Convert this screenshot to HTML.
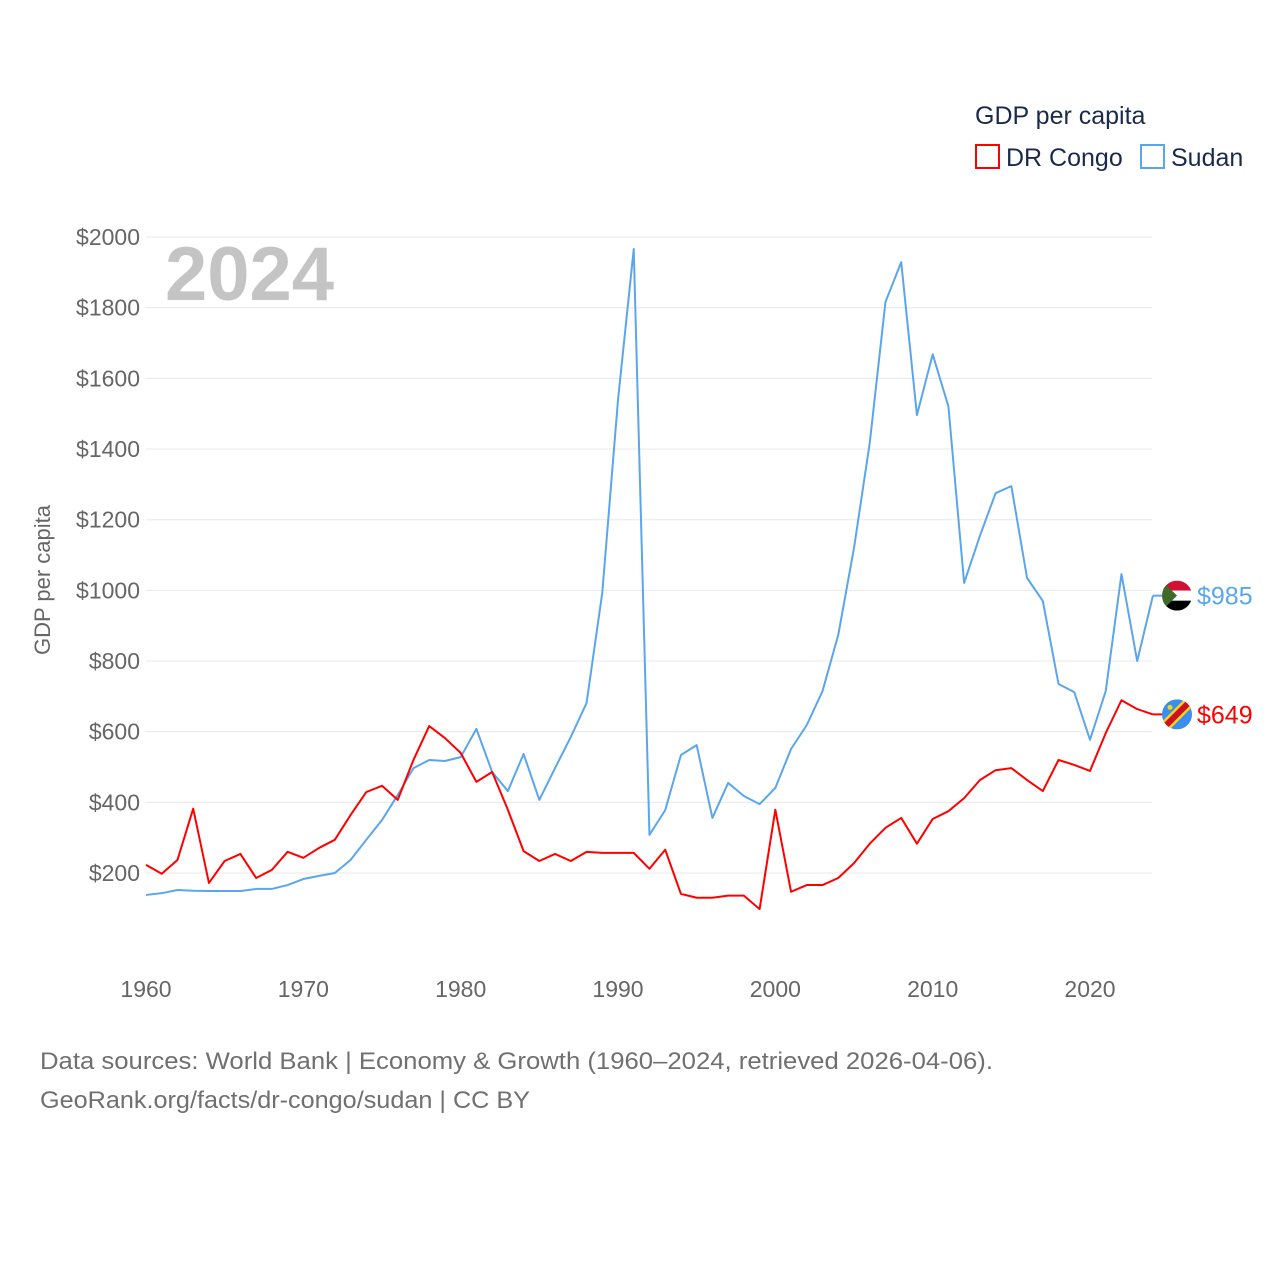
<!DOCTYPE html>
<html><head><meta charset="utf-8"><style>
body{margin:0;background:#fff;font-family:"Liberation Sans",sans-serif}
svg text{font-family:"Liberation Sans",sans-serif}
</style></head><body>
<svg id="chart" width="1280" height="1280" viewBox="0 0 1280 1280">
<g id="grid"></g><g id="yticks"></g><g id="xticks"></g>
<text x="165" y="300" font-size="76" font-weight="bold" fill="#c4c4c4">2024</text>
<text transform="translate(50,580) rotate(-90)" text-anchor="middle" font-size="22" fill="#666">GDP per capita</text>
<g id="series"></g>
<g>
<text x="975" y="124" font-size="25" fill="#1a2a4a">GDP per capita</text>
<rect x="976" y="145" width="23" height="23" fill="none" stroke="#ff0000" stroke-width="2"/>
<text x="1006" y="166" font-size="25" fill="#1a2a4a">DR Congo</text>
<rect x="1141" y="145" width="23" height="23" fill="none" stroke="#5aa6ee" stroke-width="2"/>
<text x="1171" y="166" font-size="25" fill="#1a2a4a">Sudan</text>
</g>
<text x="40" y="1069" font-size="24" fill="#707070" textLength="953" lengthAdjust="spacingAndGlyphs">Data sources: World Bank | Economy &amp; Growth (1960–2024, retrieved 2026-04-06).</text>
<text x="40" y="1108" font-size="24" fill="#707070" textLength="490" lengthAdjust="spacingAndGlyphs">GeoRank.org/facts/dr-congo/sudan | CC BY</text>
</svg>
<script>
const years=[];for(let y=1960;y<=2024;y++)years.push(y);
const sudan=[138,143,152,150,149,149,149,155,155,166,183,192,200,237,294,350,421,497,520,517,528,608,486,432,537,407,497,585,681,993,1539,1966,308,378,534,562,356,455,418,395,441,551,619,715,874,1120,1417,1816,1929,1496,1668,1521,1021,1154,1275,1295,1035,970,735,712,577,715,1046,800,985];
const congo=[223,198,237,382,172,234,254,186,209,260,243,271,294,364,429,447,407,520,616,582,540,458,486,379,262,234,254,234,260,257,257,257,212,266,141,130,130,136,136,98,379,147,166,166,186,228,283,328,356,283,353,375,412,463,491,497,463,432,520,506,489,596,689,664,649];
const yTicks=[200,400,600,800,1000,1200,1400,1600,1800,2000];
const xTicks=[1960,1970,1980,1990,2000,2010,2020];
const NS="http://www.w3.org/2000/svg";
const X=y=>146+(y-1960)*(1090-146)/60;
const Y=v=>943.7-v*(873-237)/1800;
function mk(t,a,p){const e=document.createElementNS(NS,t);for(const k in a)e.setAttribute(k,a[k]);p.appendChild(e);return e;}
const grid=document.getElementById('grid'),yt=document.getElementById('yticks'),xt=document.getElementById('xticks');
yTicks.forEach(v=>{
 const l=mk('line',{x1:146,x2:1152,y1:Y(v),y2:Y(v),stroke:'#e8e8e8','stroke-width':1},grid);
 
 
 const t=mk('text',{x:140,y:Y(v)+8,'text-anchor':'end','font-size':23,fill:'#666'},yt);t.textContent='$'+v;
 
 
});
xTicks.forEach(v=>{
 const t=mk('text',{x:X(v),y:997,'text-anchor':'middle','font-size':23,fill:'#666'},xt);t.textContent=v;
 
 
});
const s=document.getElementById('series');
function line(data,color,name){
 const p=mk('polyline',{points:data.map((v,i)=>X(years[i])+','+Y(v)).join(' '),fill:'none',stroke:color,'stroke-width':2,'stroke-linejoin':'round'},s);
 
 
 const last=data[data.length-1],lx=X(years[years.length-1]);
 mk('line',{x1:lx,x2:lx+10,y1:Y(last),y2:Y(last),stroke:color,'stroke-width':2},s);
 return Y(last);
}
const ys=line(sudan,'#5aa6ee','sudan-line');
const yc=line(congo,'#ff0000','drcongo-line');
const fs=mk('g',{},s);


const cp1=mk('clipPath',{id:'c1'},fs);mk('circle',{cx:1177,cy:ys,r:15},cp1);
const g1=mk('g',{'clip-path':'url(#c1)'},fs);
mk('rect',{x:1162,y:ys-15,width:30,height:10,fill:'#d21034'},g1);
mk('rect',{x:1162,y:ys-5,width:30,height:10,fill:'#fff'},g1);
mk('rect',{x:1162,y:ys+5,width:30,height:10,fill:'#000'},g1);
mk('polygon',{points:`1162,${ys-15} 1177,${ys} 1162,${ys+15}`,fill:'#3f6b2a'},g1);
const t1=mk('text',{x:1197,y:ys+9,'font-size':25,fill:'#5aa6ee'},s);t1.textContent='$'+sudan[sudan.length-1];


const fc=mk('g',{},s);


const cp=mk('clipPath',{id:'c2'},fc);mk('circle',{cx:1177,cy:yc,r:15},cp);
const g2=mk('g',{'clip-path':'url(#c2)'},fc);
mk('rect',{x:1162,y:yc-15,width:30,height:30,fill:'#3a8ef0'},g2);
mk('line',{x1:1160,y1:yc+17,x2:1194,y2:yc-17,stroke:'#f7d618','stroke-width':11},g2);
mk('line',{x1:1160,y1:yc+17,x2:1194,y2:yc-17,stroke:'#ce1021','stroke-width':6},g2);
mk('circle',{cx:1170,cy:yc-7,r:2.5,fill:'#f7d618'},g2);
const t2=mk('text',{x:1197,y:yc+9,'font-size':25,fill:'#ff0000'},s);t2.textContent='$'+congo[congo.length-1];


</script>
</body></html>
